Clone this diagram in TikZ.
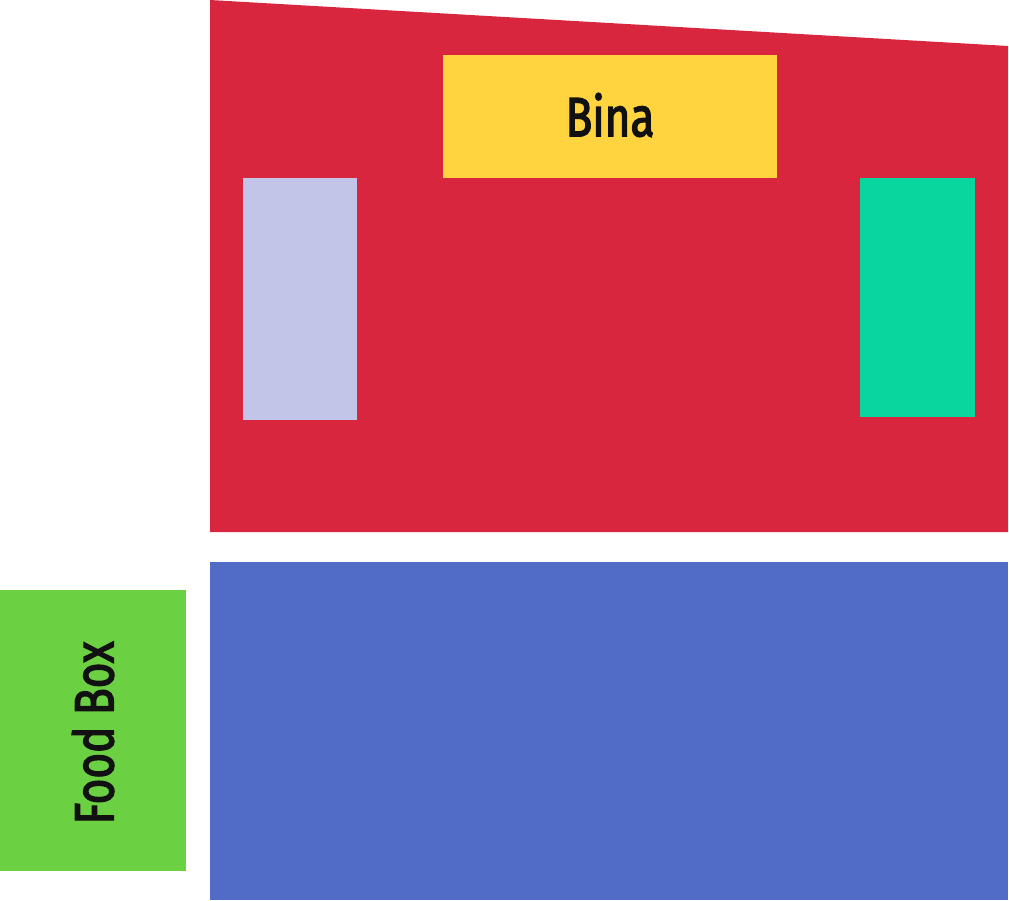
\documentclass[tikz,border=0pt]{standalone}
\usepackage{fontspec}
\setmainfont{Fira Sans}
\newfontfamily\lblfont[FakeBold=3]{Fira Sans}
\definecolor{cred}{HTML}{D8263E}
\definecolor{cyellow}{HTML}{FFD43F}
\definecolor{clav}{HTML}{C3C5E8}
\definecolor{cteal}{HTML}{08D69E}
\definecolor{cblue}{HTML}{516CC6}
\definecolor{cgreen}{HTML}{6CD043}
\definecolor{ctext}{HTML}{111111}
\tikzset{lbl/.style={text=ctext, font=\lblfont\fontsize{55}{60}\selectfont, inner sep=0pt}}
\begin{document}
\begin{tikzpicture}[x=1pt,y=-1pt]
\useasboundingbox (0,0) rectangle (1009,901);
\fill[cred] (210,0) -- (1008,46) -- (1008,532) -- (210,532) -- cycle;
\fill[cyellow] (443,55) rectangle (777,178);
\fill[clav] (243,178) rectangle (357,420);
\fill[cteal] (860,178) rectangle (975,417);
\fill[cblue] (210,562) rectangle (1008,900);
\fill[cgreen] (0,590) rectangle (186,871);
\node[lbl] (bina) at (610,115) {\scalebox{0.8}[1]{Bina}};
\node[lbl, rotate=90] (food) at (93,733) {\scalebox{0.8}[1]{Food Box}};
\end{tikzpicture}
\end{document}
